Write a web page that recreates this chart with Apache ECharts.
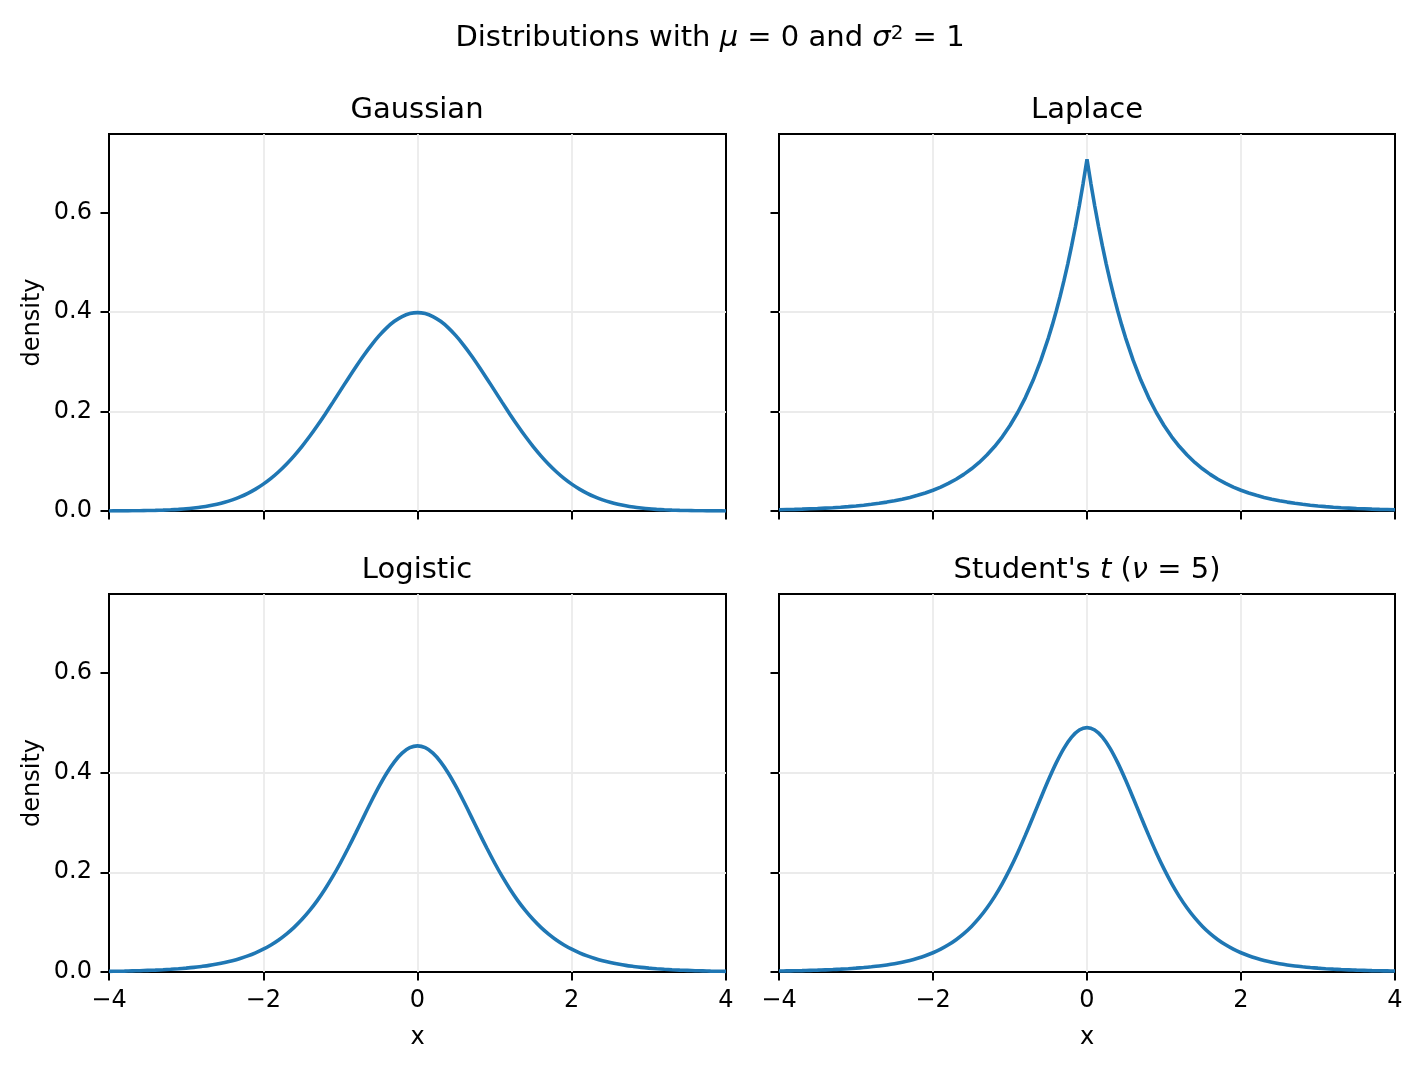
<!DOCTYPE html>
<html>
<head>
<meta charset="utf-8">
<script src="https://cdn.jsdelivr.net/npm/echarts@6/dist/echarts.min.js"></script>
<style>
html,body{margin:0;padding:0;background:#fff;}
#chart{width:1421px;height:1065px;}
</style>
</head>
<body>
<div id="chart"></div>
<script>
// x grid shared by Gaussian, Logistic, Student's t
const xGrid = [-4.0,-3.9,-3.8,-3.7,-3.6,-3.5,-3.4,-3.3,-3.2,-3.1,-3.0,-2.9,-2.8,-2.7,-2.6,-2.5,-2.4,-2.3,-2.2,-2.1,-2.0,-1.9,-1.8,-1.7,-1.6,-1.5,-1.4,-1.3,-1.2,-1.1,-1.0,-0.9,-0.8,-0.7,-0.6,-0.5,-0.4,-0.3,-0.2,-0.1,0.0,0.1,0.2,0.3,0.4,0.5,0.6,0.7,0.8,0.9,1.0,1.1,1.2,1.3,1.4,1.5,1.6,1.7,1.8,1.9,2.0,2.1,2.2,2.3,2.4,2.5,2.6,2.7,2.8,2.9,3.0,3.1,3.2,3.3,3.4,3.5,3.6,3.7,3.8,3.9,4.0];

const gaussianY = [0.0001,0.0002,0.0003,0.0004,0.0006,0.0009,0.0012,0.0017,0.0024,0.0033,0.0044,0.0060,0.0079,0.0104,0.0136,0.0175,0.0224,0.0283,0.0355,0.0440,0.0540,0.0656,0.0790,0.0940,0.1109,0.1295,0.1497,0.1714,0.1942,0.2179,0.2420,0.2661,0.2897,0.3123,0.3332,0.3521,0.3683,0.3814,0.3910,0.3970,
0.3989,
0.3970,0.3910,0.3814,0.3683,0.3521,0.3332,0.3123,0.2897,0.2661,0.2420,0.2179,0.1942,0.1714,0.1497,0.1295,0.1109,0.0940,0.0790,0.0656,0.0540,0.0440,0.0355,0.0283,0.0224,0.0175,0.0136,0.0104,0.0079,0.0060,0.0044,0.0033,0.0024,0.0017,0.0012,0.0009,0.0006,0.0004,0.0003,0.0002,0.0001];

const logisticY = [0.0013,0.0015,0.0018,0.0022,0.0026,0.0032,0.0038,0.0045,0.0054,0.0065,0.0078,0.0093,0.0112,0.0133,0.0160,0.0191,0.0227,0.0271,0.0323,0.0385,0.0457,0.0543,0.0643,0.0760,0.0895,0.1051,0.1230,0.1432,0.1660,0.1911,0.2186,0.2481,0.2790,0.3106,0.3418,0.3716,0.3986,0.4215,0.4389,0.4497,
0.4534,
0.4497,0.4389,0.4215,0.3986,0.3716,0.3418,0.3106,0.2790,0.2481,0.2186,0.1911,0.1660,0.1432,0.1230,0.1051,0.0895,0.0760,0.0643,0.0543,0.0457,0.0385,0.0323,0.0271,0.0227,0.0191,0.0160,0.0133,0.0112,0.0093,0.0078,0.0065,0.0054,0.0045,0.0038,0.0032,0.0026,0.0022,0.0018,0.0015,0.0013];

const studentY = [0.0019,0.0022,0.0025,0.0028,0.0033,0.0037,0.0043,0.0049,0.0057,0.0066,0.0077,0.0089,0.0104,0.0121,0.0142,0.0167,0.0197,0.0232,0.0275,0.0325,0.0386,0.0458,0.0545,0.0648,0.0770,0.0914,0.1084,0.1283,0.1512,0.1773,0.2067,0.2392,0.2744,0.3113,0.3488,0.3854,0.4193,0.4485,0.4710,0.4852,
0.4901,
0.4852,0.4710,0.4485,0.4193,0.3854,0.3488,0.3113,0.2744,0.2392,0.2067,0.1773,0.1512,0.1283,0.1084,0.0914,0.0770,0.0648,0.0545,0.0458,0.0386,0.0325,0.0275,0.0232,0.0197,0.0167,0.0142,0.0121,0.0104,0.0089,0.0077,0.0066,0.0057,0.0049,0.0043,0.0037,0.0033,0.0028,0.0025,0.0022,0.0019];

// Laplace has a finer grid near its sharp peak
const laplaceX = [-4.0,-3.9,-3.8,-3.7,-3.6,-3.5,-3.4,-3.3,-3.2,-3.1,-3.0,-2.9,-2.8,-2.7,-2.6,-2.5,-2.4,-2.3,-2.2,-2.1,-2.0,-1.9,-1.8,-1.7,-1.6,-1.5,-1.4,-1.3,-1.2,-1.1,-1.0,-0.9,-0.8,-0.7,-0.6,-0.5,
-0.45,-0.4,-0.35,-0.3,-0.25,-0.2,-0.15,-0.1,-0.05,0.0,0.05,0.1,0.15,0.2,0.25,0.3,0.35,0.4,0.45,
0.5,0.6,0.7,0.8,0.9,1.0,1.1,1.2,1.3,1.4,1.5,1.6,1.7,1.8,1.9,2.0,2.1,2.2,2.3,2.4,2.5,2.6,2.7,2.8,2.9,3.0,3.1,3.2,3.3,3.4,3.5,3.6,3.7,3.8,3.9,4.0];

const laplaceY = [0.0025,0.0029,0.0033,0.0038,0.0044,0.0050,0.0058,0.0066,0.0076,0.0088,0.0102,0.0117,0.0135,0.0155,0.0179,0.0206,0.0237,0.0273,0.0315,0.0363,0.0418,0.0481,0.0555,0.0639,0.0736,0.0848,0.0976,0.1125,0.1296,0.1492,0.1719,0.1980,0.2281,0.2628,0.3027,0.3487,
0.3742,0.4016,0.4310,0.4626,0.4965,0.5329,0.5720,0.6138,0.6588,0.7071,0.6588,0.6138,0.5720,0.5329,0.4965,0.4626,0.4310,0.4016,0.3742,
0.3487,0.3027,0.2628,0.2281,0.1980,0.1719,0.1492,0.1296,0.1125,0.0976,0.0848,0.0736,0.0639,0.0555,0.0481,0.0418,0.0363,0.0315,0.0273,0.0237,0.0206,0.0179,0.0155,0.0135,0.0117,0.0102,0.0088,0.0076,0.0066,0.0058,0.0050,0.0044,0.0038,0.0033,0.0029,0.0025];

const xTicks = [-4, -2, 0, 2, 4];
const yTicks = [0, 0.2, 0.4, 0.6];
const yTickLabels = ['0.0', '0.2', '0.4', '0.6'];
const yMax = 0.758;

const FONT = 'DejaVu Sans';
const LINE_COLOR = '#1f77b4';

const grids = [
  {left: 109, top: 134, width: 617, height: 377},
  {left: 779, top: 134, width: 616, height: 377},
  {left: 109, top: 594, width: 617, height: 378},
  {left: 779, top: 594, width: 616, height: 378}
].map(g => Object.assign({show: true, borderColor: '#000', borderWidth: 2, backgroundColor: 'transparent', containLabel: false}, g));

function fmtX(v) { return v < 0 ? '\u2212' + Math.abs(v) : String(v); }

const xAxes = [0,1,2,3].map(i => ({
  type: 'value', gridIndex: i, min: -4, max: 4, interval: 2,
  axisLine: {show: false, onZero: false},
  axisTick: {show: true, inside: false, length: 8.5, lineStyle: {color: '#000', width: 2}},
  axisLabel: {show: i >= 2, margin: 17, color: '#000', fontFamily: FONT, fontSize: 24, formatter: fmtX},
  splitLine: {show: true, showMinLine: false, showMaxLine: false, lineStyle: {color: '#ebebeb', width: 1.8}},
  name: i >= 2 ? 'x' : '', nameLocation: 'middle', nameGap: 54,
  nameTextStyle: {color: '#000', fontFamily: FONT, fontSize: 24}
}));

const yAxes = [0,1,2,3].map(i => ({
  type: 'value', gridIndex: i, min: 0, max: yMax,
  axisLine: {show: false, onZero: false},
  axisTick: {show: true, inside: false, length: 8.5, lineStyle: {color: '#000', width: 2}, customValues: yTicks},
  axisLabel: {show: i % 2 === 0, margin: 17, color: '#000', fontFamily: FONT, fontSize: 24, customValues: yTicks,
    formatter: v => yTickLabels[yTicks.indexOf(v)] !== undefined ? yTickLabels[yTicks.indexOf(v)] : v.toFixed(1)},
  splitLine: {show: true, showMinLine: false, showMaxLine: false, lineStyle: {color: '#ebebeb', width: 1.8}},
  name: i % 2 === 0 ? 'density' : '', nameLocation: 'middle', nameGap: 64, nameRotate: 90,
  nameTextStyle: {color: '#000', fontFamily: FONT, fontSize: 24}
}));

function mkSeries(idx, xs, ys, smooth) {
  return {
    type: 'line', xAxisIndex: idx, yAxisIndex: idx,
    data: xs.map((x, k) => [x, ys[k]]),
    showSymbol: false, symbol: 'none', smooth: smooth,
    lineStyle: {color: LINE_COLOR, width: 3.6}, clip: true, z: 3
  };
}

const titleStyle = {color: '#000', fontFamily: FONT, fontSize: 29, fontWeight: 'normal'};
const richMath = {
  i: {fontFamily: FONT, fontStyle: 'italic', fontSize: 29, color: '#000'},
  n: {fontFamily: FONT, fontSize: 29, color: '#000'},
  sup: {fontFamily: FONT, fontSize: 20, color: '#000', verticalAlign: 'top', lineHeight: 29}
};

const option = {
  backgroundColor: '#fff',
  animation: false,
  title: [
    {text: '{n|Distributions with }{i|\u03bc}{n| = 0 and }{i|\u03c3}{sup|2}{n| = 1}', left: 710, top: 24, textAlign: 'center', padding: 0,
      textStyle: Object.assign({}, titleStyle, {rich: richMath})},
    {text: 'Gaussian', left: 417, top: 96, textAlign: 'center', padding: 0, textStyle: titleStyle},
    {text: 'Laplace', left: 1087, top: 96, textAlign: 'center', padding: 0, textStyle: titleStyle},
    {text: 'Logistic', left: 417, top: 556, textAlign: 'center', padding: 0, textStyle: titleStyle},
    {text: "{n|Student's }{i|t}{n| (}{i|\u03bd}{n| = 5)}", left: 1087, top: 556, textAlign: 'center', padding: 0,
      textStyle: Object.assign({}, titleStyle, {rich: richMath})}
  ],
  grid: grids,
  xAxis: xAxes,
  yAxis: yAxes,
  series: [
    mkSeries(0, xGrid, gaussianY, 0.3),
    mkSeries(1, laplaceX, laplaceY, false),
    mkSeries(2, xGrid, logisticY, 0.3),
    mkSeries(3, xGrid, studentY, 0.3)
  ]
};

const chart = echarts.init(document.getElementById('chart'), null, {renderer: 'canvas'});
chart.setOption(option);
</script>
</body>
</html>
